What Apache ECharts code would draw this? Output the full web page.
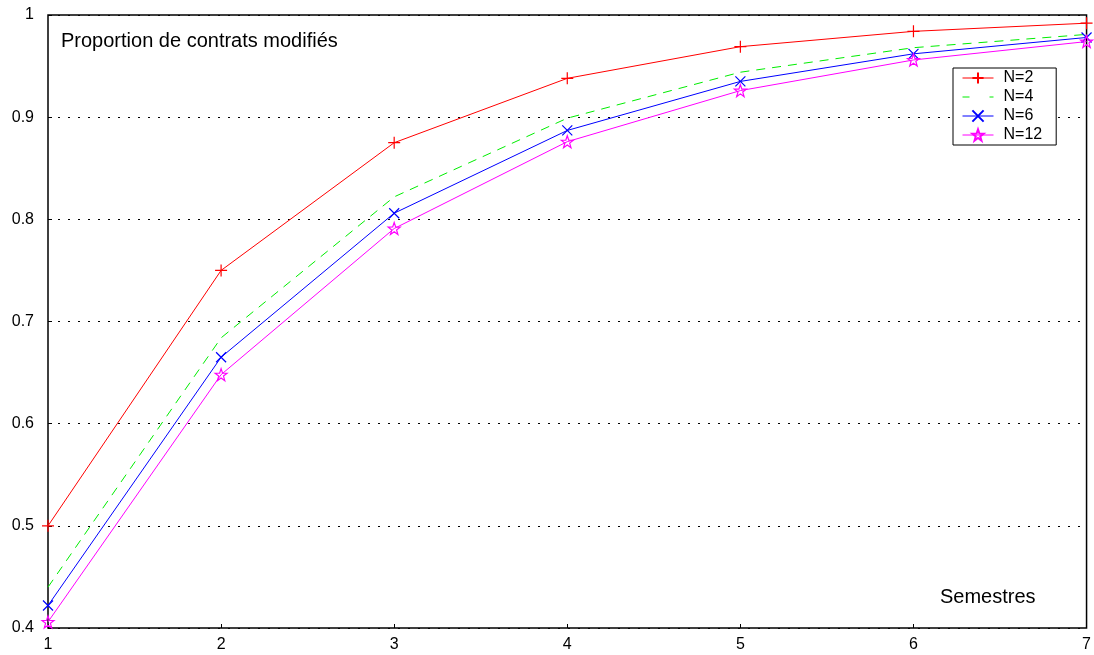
<!DOCTYPE html>
<html><head><meta charset="utf-8">
<script src="https://cdn.jsdelivr.net/npm/echarts@6/dist/echarts.min.js"></script>
<style>html,body{margin:0;padding:0;background:#fff}#c{width:1094px;height:655px}</style>
</head><body><div id="c"></div>
<script>
const semestres = [1, 2, 3, 4, 5, 6, 7];
const n2  = [0.500, 0.750, 0.875, 0.938, 0.969, 0.984, 0.992];
const n4  = [0.440, 0.684, 0.822, 0.899, 0.944, 0.968, 0.981];
const n6  = [0.422, 0.665, 0.806, 0.887, 0.935, 0.962, 0.978];
const n12 = [0.406, 0.648, 0.791, 0.876, 0.926, 0.956, 0.974];
const legendNames = ['N=2', 'N=4', 'N=6', 'N=12'];

const plus = 'path://M0,5L10,5M5,0L5,10';
const cross = 'path://M0,0L10,10M10,0L0,10';
const star = 'path://M5,0L6.18,3.38L9.76,3.45L6.9,5.62L7.94,9.05L5,7L2.06,9.05L3.1,5.62L0.24,3.45L3.82,3.38Z';
const dashIcon = 'path://M0,0L0.01,0L0.01,0.01L0,0.01Z M0,6.5L7,6.5L7,7.5L0,7.5Z M27,6.5L31,6.5L31,7.5L27,7.5Z M30.99,13.99L31,13.99L31,14L30.99,14Z';

function mk(name, vals, color, symbol, size, dash) {
  return {
    name, type: 'line', data: semestres.map((s, i) => [s, vals[i]]),
    symbol: symbol || 'none', symbolSize: size || 1, showSymbol: !!symbol,
    lineStyle: { color, width: 1, type: dash || 'solid' },
    itemStyle: { color: 'rgba(0,0,0,0)', borderColor: color, borderWidth: 1.2 },
    emphasis: { disabled: true }, animation: false, z: 3, clip: false
  };
}

const chart = echarts.init(document.getElementById('c'), null, { renderer: 'canvas' });
chart.setOption({
  animation: false,
  backgroundColor: '#fff',
  textStyle: { fontFamily: 'Liberation Sans, Arial, sans-serif' },
  grid: { left: 48, right: 5, top: 15, bottom: 27, show: true, borderColor: '#000', borderWidth: 1.5, backgroundColor: 'transparent' },
  xAxis: {
    type: 'value', min: 1, max: 7, interval: 1,
    axisLine: { show: false },
    axisTick: { show: true, inside: true, length: 4, lineStyle: { color: '#000' } },
    axisLabel: { color: '#000', fontSize: 16, margin: 9, formatter: v => String(v) },
    splitLine: { show: false }
  },
  yAxis: {
    type: 'value', min: 0.4, max: 1, interval: 0.1,
    axisLine: { show: false },
    axisTick: { show: true, inside: true, length: 4, lineStyle: { color: '#000' } },
    axisLabel: { color: '#000', fontSize: 16, margin: 14, formatter: v => String(Math.round(v * 10) / 10) },
    splitLine: { show: true, lineStyle: { color: '#000', type: [2, 8], width: 1 } }
  },
  legend: {
    orient: 'vertical', left: 953, top: 68,
    backgroundColor: '#fff', borderColor: '#000', borderWidth: 1,
    padding: [2, 14, 2, 9], itemGap: 3, itemWidth: 31, itemHeight: 14,
    lineStyle: { width: 1 },
    textStyle: { color: '#000', fontSize: 16, lineHeight: 16, padding: [0, 0, 0, 5] },
    data: [
      { name: legendNames[0] },
      { name: legendNames[1], icon: dashIcon, itemStyle: { color: '#00ee00', borderWidth: 0 } },
      { name: legendNames[2] },
      { name: legendNames[3] }
    ]
  },
  graphic: [
    { type: 'text', left: 61, top: 31, style: { text: 'Proportion de contrats modifiés', fill: '#000', font: '20px "Liberation Sans", Arial, sans-serif' } },
    { type: 'text', left: 940, top: 587, style: { text: 'Semestres', fill: '#000', font: '20px "Liberation Sans", Arial, sans-serif' } }
  ],
  series: [
    mk(legendNames[0], n2, '#ff0000', plus, 12),
    mk(legendNames[1], n4, '#00ee00', null, 0, [9, 7]),
    mk(legendNames[2], n6, '#0000ff', cross, 10),
    mk(legendNames[3], n12, '#ff00ff', star, 12)
  ]
});
</script></body></html>
